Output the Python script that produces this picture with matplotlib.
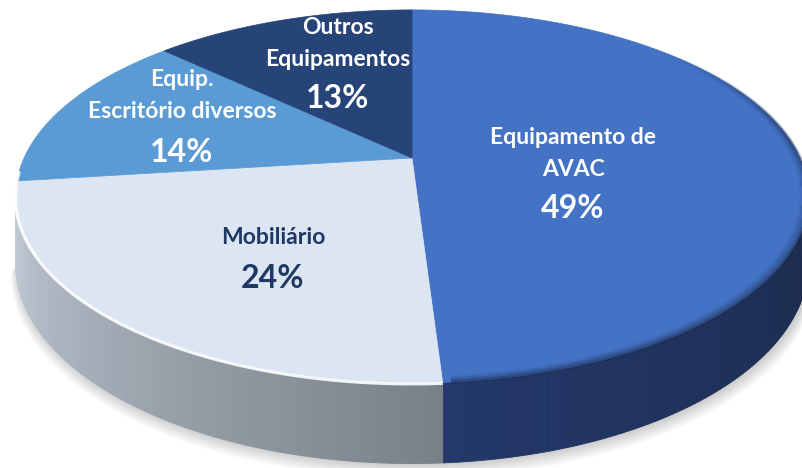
import numpy as np
import matplotlib.pyplot as plt
from matplotlib.colors import to_rgb
from matplotlib.collections import LineCollection

# Data, clockwise from 12 o'clock
categories = ['Equipamento de\nAVAC', 'Mobiliário', 'Equip.\nEscritório diversos', 'Outros\nEquipamentos']
shares = [49, 24, 14, 13]
pct_labels = ['49%', '24%', '14%', '13%']

# Styling
top_colors = ['#4472C4', '#DCE6F2', '#5B9BD5', '#264478']
side_light = ['#24386A', '#C3CDD7', '#4A7FB0', '#1E365F']
side_dark = ['#1A2A4A', '#788089', '#3A6A99', '#18294A']
text_colors = ['white', '#1F3864', 'white', 'white']
label_pos = [(573, 137), (273, 238), (182, 80), (338, 27)]

# 3D pie geometry in pixel space (perspective tilt)
CX, CY = 412, 158
A, B = 388, 178.6
K = 0.206
H = 64
# side is only visible between the two widest points of the top ellipse
TH_R = np.degrees(np.arccos(-K))
TH_L = 360 - TH_R


def proj(theta, r=1.0, z=0.0):
    t = np.radians(theta)
    u = r * np.sin(t)
    v = r * np.cos(t)
    s = 1.0 / (1.0 + K * v)
    return CX + A * u * s, CY - B * v * s + z * s


fig = plt.figure(figsize=(8.02, 4.68), dpi=100)
ax = fig.add_axes([0, 0, 1, 1])
ax.set_xlim(0, 802)
ax.set_ylim(468, 0)
ax.axis('off')

plt.rcParams['font.family'] = ['Lato', 'DejaVu Sans']

bounds = np.concatenate([[0], np.cumsum(shares)]) / np.sum(shares) * 360.0

# soft shadow under the front edge
th = np.linspace(TH_R, TH_L, 200)
for k in range(8, 0, -1):
    bx, by = proj(th, 1.0 + 0.002 * k, H)
    tx, ty = proj(th[::-1], 0.85, 0)
    ax.fill(np.concatenate([bx + 2, tx]), np.concatenate([by + 1.2 * k, ty]),
            color='black', alpha=0.025, lw=0)

# sides (front half only, drawn in thin strips for a gradient)
for i in range(len(shares)):
    lo = max(bounds[i], TH_R)
    hi = min(bounds[i + 1], TH_L)
    if hi <= lo:
        continue
    c1 = np.array(to_rgb(side_dark[i]))
    c2 = np.array(to_rgb(side_light[i]))
    steps = np.linspace(lo, hi, 80)
    for a0, a1 in zip(steps[:-1], steps[1:]):
        t = (0.5 * (a0 + a1) - lo) / (hi - lo)
        col = c1 + (c2 - c1) * t
        seg = np.linspace(a0, a1, 3)
        x1, y1 = proj(seg, 1.0, 0)
        x2, y2 = proj(seg[::-1], 1.0, H)
        ax.fill(np.concatenate([x1, x2]), np.concatenate([y1, y2]),
                color=col, ec=col, lw=0.6)

# top face wedges
for i in range(len(shares)):
    seg = np.linspace(bounds[i], bounds[i + 1], 120)
    x, y = proj(seg)
    ax.fill(np.concatenate([[CX], x]), np.concatenate([[CY], y]),
            color=top_colors[i], ec=top_colors[i], lw=0.5)

# darker bevel on the rim of the big slice, fading in from the top
seg = np.linspace(50, bounds[1] - 1, 200)
ramp = np.clip((seg[:-1] - 50) / 35.0, 0, 1)
base = np.array(to_rgb('#1A2A4A'))
for k, a in enumerate([0.4, 0.25, 0.14, 0.06]):
    x, y = proj(seg, 1.0 - 0.006 * k)
    pts = np.column_stack([x, y]).reshape(-1, 1, 2)
    segs = np.concatenate([pts[:-1], pts[1:]], axis=1)
    cols = [(*base, a * r) for r in ramp]
    ax.add_collection(LineCollection(segs, colors=cols, linewidths=2.5, capstyle='butt'))

# light rim along the front edge of the light slice
seg = np.linspace(bounds[1], TH_L + 8, 100)
x, y = proj(seg)
ax.plot(x, y + 1, color='white', lw=2.2, alpha=0.9, solid_capstyle='butt')

# data labels
for i in range(len(shares)):
    lx, ly = label_pos[i]
    lines = categories[i].split('\n')
    for j, line in enumerate(lines):
        ax.text(lx, ly + 32 * j, line, ha='center', va='center',
                fontsize=16.5, fontweight='bold', color=text_colors[i])
    ax.text(lx, ly + 32 * (len(lines) - 1) + 40, pct_labels[i], ha='center', va='center',
            fontsize=23, fontweight='bold', color=text_colors[i])

plt.savefig('out.png', dpi=100)
